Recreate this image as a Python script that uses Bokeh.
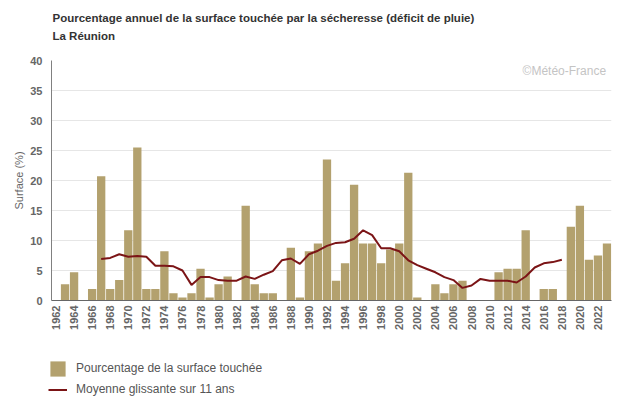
import math
from bokeh.plotting import figure
from bokeh.layouts import column
from bokeh.models import Range1d, FixedTicker, Legend, LegendItem, Label
from bokeh.embed import file_html
from bokeh.resources import INLINE

FONT = "Liberation Sans"

title_text = "Pourcentage annuel de la surface touchée par la sécheresse (déficit de pluie)"
subtitle_text = "La Réunion"
series_bar_name = "Pourcentage de la surface touchée"
series_line_name = "Moyenne glissante sur 11 ans"
y_axis_title = "Surface (%)"
credit_text = "©Météo-France"

years = [1962, 1963, 1964, 1965, 1966, 1967, 1968, 1969, 1970, 1971,
         1972, 1973, 1974, 1975, 1976, 1977, 1978, 1979, 1980, 1981,
         1982, 1983, 1984, 1985, 1986, 1987, 1988, 1989, 1990, 1991,
         1992, 1993, 1994, 1995, 1996, 1997, 1998, 1999, 2000, 2001,
         2002, 2003, 2004, 2005, 2006, 2007, 2008, 2009, 2010, 2011,
         2012, 2013, 2014, 2015, 2016, 2017, 2018, 2019, 2020, 2021,
         2022, 2023]
surface = [0, 2.7, 4.7, 0, 1.9, 20.7, 1.9, 3.4, 11.7, 25.5,
           1.9, 1.9, 8.2, 1.2, 0.5, 1.2, 5.3, 0.5, 2.7, 4.0,
           0, 15.8, 2.7, 1.2, 1.2, 0, 8.8, 0.5, 8.2, 9.5,
           23.5, 3.3, 6.2, 19.3, 9.5, 9.5, 6.2, 8.5, 9.5, 21.3,
           0.5, 0, 2.7, 1.2, 2.7, 3.3, 0, 0, 0, 4.7,
           5.3, 5.3, 11.7, 0, 1.9, 1.9, 0, 12.3, 15.8, 6.8,
           7.5, 9.5]

ma_years = [1967, 1968, 1969, 1970, 1971, 1972, 1973, 1974, 1975, 1976,
            1977, 1978, 1979, 1980, 1981, 1982, 1983, 1984, 1985, 1986,
            1987, 1988, 1989, 1990, 1991, 1992, 1993, 1994, 1995, 1996,
            1997, 1998, 1999, 2000, 2001, 2002, 2003, 2004, 2005, 2006,
            2007, 2008, 2009, 2010, 2011, 2012, 2013, 2014, 2015, 2016,
            2017, 2018]
ma_values = [6.9, 7.1, 7.7, 7.3, 7.4, 7.3, 5.8, 5.8, 5.7, 5.0,
             2.6, 3.9, 3.9, 3.4, 3.3, 3.3, 4.0, 3.6, 4.3, 4.9,
             6.7, 7.0, 6.1, 7.7, 8.3, 9.1, 9.6, 9.7, 10.3, 11.7,
             10.9, 8.7, 8.7, 8.2, 6.7, 5.9, 5.3, 4.7, 3.9, 3.4,
             2.1, 2.5, 3.6, 3.3, 3.3, 3.3, 3.0, 4.0, 5.5, 6.2,
             6.4, 6.8]

x_ticks = [1962, 1964, 1966, 1968, 1970, 1972, 1974, 1976, 1978, 1980,
           1982, 1984, 1986, 1988, 1990, 1992, 1994, 1996, 1998, 2000,
           2002, 2004, 2006, 2008, 2010, 2012, 2014, 2016, 2018, 2020,
           2022]
y_ticks = [0, 5, 10, 15, 20, 25, 30, 35, 40]

BAR_COLOR = "#b3a16e"
LINE_COLOR = "#7b1416"
W = 630
HEAD_H = 44
MAIN_H = 306
LEG_H = 55


def blank(height):
    f = figure(width=W, height=height, output_backend="svg", toolbar_location=None,
               x_range=Range1d(0, W), y_range=Range1d(0, height),
               x_axis_location=None, y_axis_location=None,
               min_border=0, min_border_left=0, min_border_right=0,
               min_border_top=0, min_border_bottom=0)
    f.outline_line_color = None
    f.xgrid.visible = False
    f.ygrid.visible = False
    f.background_fill_color = "white"
    f.border_fill_color = "white"
    try:
        f.frame_align = False
    except Exception:
        f.x_range = Range1d(51, 611)
    return f


# ---- header with titles (pixel coordinates, y measured from bottom)
head = blank(HEAD_H)
head.add_layout(Label(x=52, y=HEAD_H - 17, text=title_text, text_align="left",
                      text_baseline="middle", text_font=FONT, text_font_size="11.5px",
                      text_font_style="bold", text_color="#333333"))
head.add_layout(Label(x=52, y=HEAD_H - 35, text=subtitle_text, text_align="left",
                      text_baseline="middle", text_font=FONT, text_font_size="11.5px",
                      text_font_style="bold", text_color="#333333"))

# ---- main chart
p = figure(width=W, height=MAIN_H, output_backend="svg", toolbar_location=None,
           x_range=Range1d(1961.5, 2023.5), y_range=Range1d(0, 40),
           min_border_left=51, min_border_right=19, min_border_top=16,
           min_border_bottom=50)
p.outline_line_color = None
p.background_fill_color = "white"
p.border_fill_color = "white"

bars = p.vbar(x=years, top=surface, width=0.92, fill_color=BAR_COLOR, line_color=None)
line = p.line(x=ma_years, y=ma_values, line_color=LINE_COLOR, line_width=2)

p.xaxis.ticker = FixedTicker(ticks=x_ticks)
p.xaxis.major_label_orientation = math.pi / 2
p.xaxis.major_label_standoff = 5
p.xaxis.major_tick_out = 0
p.xaxis.major_tick_in = 0
p.xaxis.minor_tick_out = 0
p.xaxis.minor_tick_in = 0
p.xaxis.axis_line_color = "#666666"
p.xaxis.major_label_text_font = FONT
p.xaxis.major_label_text_font_size = "11px"
p.xaxis.major_label_text_font_style = "bold"
p.xaxis.major_label_text_color = "#666666"

p.yaxis.ticker = FixedTicker(ticks=y_ticks)
p.yaxis.major_tick_out = 0
p.yaxis.major_tick_in = 0
p.yaxis.minor_tick_out = 0
p.yaxis.minor_tick_in = 0
p.yaxis.axis_line_color = "#808080"
p.yaxis.major_label_standoff = 9
p.yaxis.major_label_text_font = FONT
p.yaxis.major_label_text_font_size = "11px"
p.yaxis.major_label_text_font_style = "bold"
p.yaxis.major_label_text_color = "#666666"
p.yaxis.axis_label = y_axis_title
p.yaxis.axis_label_standoff = 2
p.yaxis.axis_label_text_font = FONT
p.yaxis.axis_label_text_font_size = "11px"
p.yaxis.axis_label_text_font_style = "normal"
p.yaxis.axis_label_text_color = "#666666"

p.xgrid.visible = False
p.ygrid.ticker = FixedTicker(ticks=y_ticks)
p.ygrid.grid_line_color = "#e6e6e6"
p.ygrid.grid_line_width = 1

p.add_layout(Label(x=2022.9, y=38.3, text=credit_text, text_align="right",
                   text_baseline="middle", text_font=FONT, text_font_size="12px",
                   text_color="#c4c4c4"))

# ---- legend strip (its glyph renderers hold the same data; it lies outside this strip's view)
leg = blank(LEG_H)
leg_bar = leg.vbar(x=years, top=surface, width=0.92, fill_color=BAR_COLOR, line_color=None)
leg_line = leg.line(x=ma_years, y=ma_values, line_color=LINE_COLOR, line_width=2)
legend = Legend(items=[LegendItem(label=series_bar_name, renderers=[leg_bar]),
                       LegendItem(label=series_line_name, renderers=[leg_line])],
                location=(48, 6), orientation="vertical",
                padding=0, margin=0, spacing=1, glyph_width=19, glyph_height=19,
                label_height=20, label_standoff=9, border_line_color=None,
                background_fill_alpha=0,
                label_text_font=FONT, label_text_font_size="12px",
                label_text_color="#555555")
leg.add_layout(legend)

layout = column(head, p, leg, spacing=0)
open("out.html", "w").write(file_html(layout, INLINE))
